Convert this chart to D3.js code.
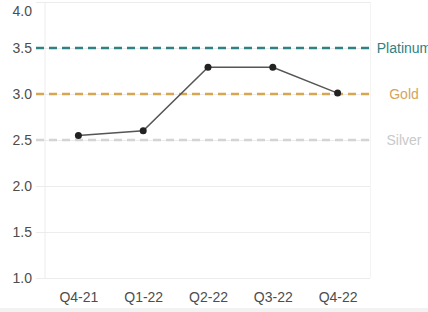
<!DOCTYPE html>
<html>
<head>
<meta charset="utf-8">
<script src="https://cdn.jsdelivr.net/npm/d3@7"></script>
<style>
  body { margin: 0; background: #fff; }
  svg { display: block; font-family: "Liberation Sans", Arial, sans-serif; }
</style>
</head>
<body>
<div id="chart"></div>
<script>
// quarters and scores
var quarters = ["Q4-21", "Q1-22", "Q2-22", "Q3-22", "Q4-22"];
var scores = [2.55, 2.6, 3.29, 3.29, 3.01];
var yTicks = [1.0, 1.5, 2.0, 2.5, 3.0, 3.5, 4.0];

// tier thresholds
var tierNames = ["Platinum", "Gold", "Silver"];
var tierValues = [3.5, 3.0, 2.5];
var tierColors = ["#2f8283", "#d6a751", "#d4d4d4"];
var tierTextColors = ["#2f8283", "#d4a55c", "#c9c9c9"];

var width = 428, height = 312;
var plotLeft = 46, plotRight = 370, plotTop = 2, plotBottom = 278;

var svg = d3.select("#chart").append("svg")
    .attr("width", width)
    .attr("height", height);

// grey strip at the bottom
svg.append("rect")
    .attr("x", 0).attr("y", 308)
    .attr("width", width).attr("height", 4)
    .attr("fill", "#f2f2f2");

var x = d3.scalePoint()
    .domain(quarters)
    .range([plotLeft, plotRight])
    .padding(0.5);

var y = d3.scaleLinear()
    .domain([1, 4])
    .range([plotBottom, plotTop]);

// y axis with grid lines
var yAxis = d3.axisLeft(y)
    .tickValues(yTicks)
    .tickFormat(d3.format(".1f"))
    .tickSize(-(plotRight - 36))
    .tickPadding(4);

var gy = svg.append("g")
    .attr("transform", "translate(36,0)")
    .call(yAxis);
gy.select(".domain").remove();
gy.selectAll("line").attr("stroke", "#ececec");
gy.selectAll("text")
    .style("font-size", "14px")
    .attr("fill", "#4d4d4d");
// top label sits lower so it stays on the page
gy.selectAll(".tick").filter(function(d) { return d === 4; })
    .select("text").attr("dy", "0.95em");

// panel edges
svg.append("line")
    .attr("x1", 45).attr("x2", 45)
    .attr("y1", plotTop).attr("y2", plotBottom)
    .attr("stroke", "#ececec");
svg.append("line")
    .attr("x1", plotRight + 0.5).attr("x2", plotRight + 0.5)
    .attr("y1", plotTop).attr("y2", plotBottom)
    .attr("stroke", "#f3f3f3");

// x axis labels
var xAxis = d3.axisBottom(x).tickSize(0).tickPadding(0);
var gx = svg.append("g")
    .attr("transform", "translate(0," + (plotBottom + 14) + ")")
    .call(xAxis);
gx.select(".domain").remove();
gx.selectAll("text")
    .style("font-size", "14px")
    .attr("fill", "#4d4d4d");

// tier lines
tierValues.forEach(function(v, i) {
    svg.append("line")
        .attr("x1", 36).attr("x2", plotRight)
        .attr("y1", y(v)).attr("y2", y(v))
        .attr("stroke", tierColors[i])
        .attr("stroke-width", 2.5)
        .attr("stroke-dasharray", "8,5");
    svg.append("text")
        .attr("x", 404)
        .attr("y", y(v))
        .attr("dy", "0.35em")
        .attr("text-anchor", "middle")
        .style("font-size", "14px")
        .attr("fill", tierTextColors[i])
        .text(tierNames[i]);
});

// score line
var line = d3.line()
    .x(function(d, i) { return x(quarters[i]); })
    .y(function(d) { return y(d); });

svg.append("path")
    .datum(scores)
    .attr("d", line)
    .attr("fill", "none")
    .attr("stroke", "#555")
    .attr("stroke-width", 1.5);

svg.selectAll(".dot")
    .data(scores)
    .enter().append("circle")
    .attr("class", "dot")
    .attr("cx", function(d, i) { return x(quarters[i]); })
    .attr("cy", function(d) { return y(d); })
    .attr("r", 3.5)
    .attr("fill", "#222");
</script>
</body>
</html>
